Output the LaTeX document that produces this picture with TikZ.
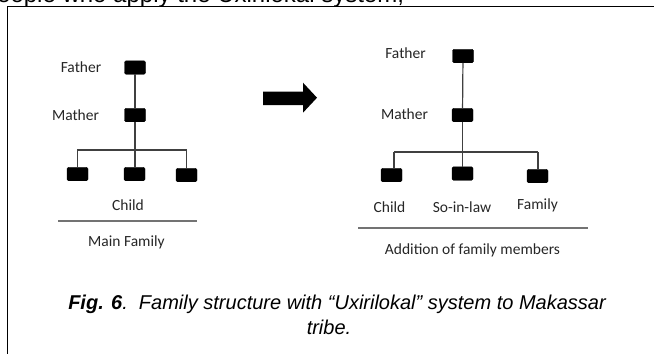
\documentclass[tikz,border=0pt]{standalone}
\usepackage{fontspec}
\setmainfont{Carlito}
\newfontfamily\arialfont{Liberation Sans}
\begin{document}
\begin{tikzpicture}[x=1pt,y=-1pt,
  person/.style={fill=black,draw=black,rounded corners=1.5pt,minimum width=21pt,minimum height=13.5pt,inner sep=0pt},
  lbl/.style={font=\fontsize{15.5}{18}\selectfont,text=black!85,inner sep=0pt},
  tie/.style={draw=black!75,line width=1.2pt},
  sep/.style={draw=black!55,line width=1.8pt},
  frame/.style={draw=black,line width=1.8pt}]
\useasboundingbox (0,0) rectangle (654,354);
\begin{scope}
\clip (0,0) rectangle (654,354);
\node[anchor=base west,inner sep=0pt,font=\arialfont\fontsize{24}{28}\selectfont] (toptext) at (-3,2.5) {eople who apply the Uxirilokal system,};
\end{scope}
\draw[frame] (654,6.5) -- (7.5,6.5) -- (7.5,354);
% left tree
\node[person] (LF) at (135,67.5) {};
\node[person] (LM) at (135,115) {};
\node[person] (LC1) at (77.5,174) {};
\node[person] (LC2) at (134.5,174) {};
\node[person] (LC3) at (186.5,175) {};
\coordinate (LB) at (135,150);
\draw[tie] (LF) -- (LM);
\draw[tie] (LM) -- (LB);
\draw[tie] (LB) -- (LC2.north -| LB);
\draw[tie] (LC1.north) |- (LB) -| (LC3.north);
\node[lbl] (LFt) at (81,67.5) {Father};
\node[lbl] (LMt) at (75.5,115) {Mather};
\node[lbl] (LCt) at (128,205) {Child};
\coordinate (LS1) at (58,221);
\coordinate (LS2) at (197,221);
\draw[sep] (LS1) -- (LS2);
\node[lbl] (LMain) at (126.5,242) {Main Family};
% arrow
\fill (263,91.7) -- (303,91.7) -- (303,82.7) -- (317,97.7) -- (303,112.7) -- (303,105) -- (263,105) -- cycle;
% right tree
\node[person] (RF) at (463,56) {};
\node[person] (RM) at (462.5,115) {};
\node[person] (RC1) at (391.5,175) {};
\node[person] (RC2) at (462.5,173.5) {};
\node[person] (RC3) at (537.5,176) {};
\coordinate (RB) at (462.5,152);
\coordinate (RB1) at (394,152);
\coordinate (RB3) at (538,152);
\draw[tie] (RF) -- (RM);
\draw[tie] (RM) -- (RC2);
\draw[tie] (RB1) -- (RB3);
\draw[tie] (RB1) -- (RB1 |- RC1.north);
\draw[tie] (RB3) -- (RB3 |- RC3.north);
\node[lbl] (RFt) at (405.5,53) {Father};
\node[lbl] (RMt) at (404.5,114) {Mather};
\node[lbl] (RC1t) at (389.5,207) {Child};
\node[lbl] (RC2t) at (462,207) {So-in-law};
\node[lbl] (RC3t) at (537.5,205) {Family};
\coordinate (RS1) at (358,228);
\coordinate (RS2) at (588,228);
\draw[sep] (RS1) -- (RS2);
\node[lbl] (RAdd) at (472.5,250) {Addition of family members};
% caption
\node[inner sep=0pt,font=\arialfont\itshape\fontsize{20}{24}\selectfont] (cap1) at (337,304) {\textbf{Fig. 6}.\ \ Family structure with “Uxirilokal” system to Makassar};
\node[inner sep=0pt,font=\arialfont\itshape\fontsize{20}{24}\selectfont] (cap2) at (329,327) {tribe.};
\end{tikzpicture}
\end{document}
